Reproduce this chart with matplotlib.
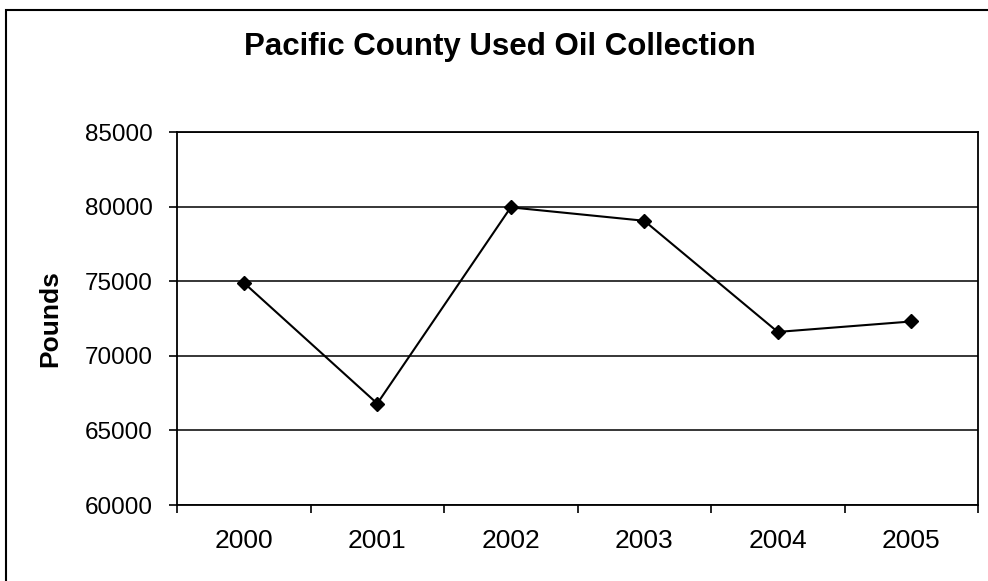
import numpy as np
import matplotlib.pyplot as plt
from matplotlib.patches import Rectangle

plt.rcParams["font.family"] = ["Liberation Sans", "DejaVu Sans"]

years = ["2000", "2001", "2002", "2003", "2004", "2005"]
pounds = [74900, 66800, 79950, 79050, 71600, 72300]
yticks = [60000, 65000, 70000, 75000, 80000, 85000]

fig = plt.figure(figsize=(9.88, 5.81), dpi=100)
W, H = 988, 581
# plot area in pixels: left 177, right 978, top 132, bottom 505
ax = fig.add_axes([177 / W, 1 - 505 / H, (978 - 177) / W, (505 - 132) / H])

x = np.arange(len(years))
ax.plot(x, pounds, color="black", lw=1.5, marker="D", markersize=7,
        markerfacecolor="black", markeredgecolor="black", zorder=3)

ax.set_xlim(-0.5, len(years) - 0.5)
ax.set_ylim(60000, 85000)
ax.set_yticks(yticks)
ax.set_yticklabels([str(v) for v in yticks], fontsize=17.5)
ax.set_xticks(x)
ax.set_xticklabels(years, fontsize=19)
ax.set_xticks(np.arange(-0.5, len(years), 1.0), minor=True)
ax.tick_params(axis="x", which="major", length=0, pad=17)
ax.tick_params(axis="x", which="minor", length=6, width=1.2, direction="out")
ax.tick_params(axis="y", length=6, width=1.2, direction="out", pad=11.5)

ax.grid(axis="y", color="black", lw=1.1)
ax.set_axisbelow(True)
for s in ax.spines.values():
    s.set_color("black")
    s.set_linewidth(1.3)

ax.set_ylabel("Pounds", fontsize=19, fontweight="bold")
ax.yaxis.set_label_coords((62 - 177) / (978 - 177), 0.5)

fig.text(500 / W, 1 - 47 / H, "Pacific County Used Oil Collection",
         fontsize=22.5, fontweight="bold", ha="center", va="center")

# outer chart border (right/bottom edges fall outside the image)
fig.add_artist(Rectangle((6 / W, -0.05), 1.1, 1 - 10 / H + 0.05,
                         transform=fig.transFigure, fill=False,
                         edgecolor="black", lw=1.5))

fig.savefig("out.png", dpi=100)
